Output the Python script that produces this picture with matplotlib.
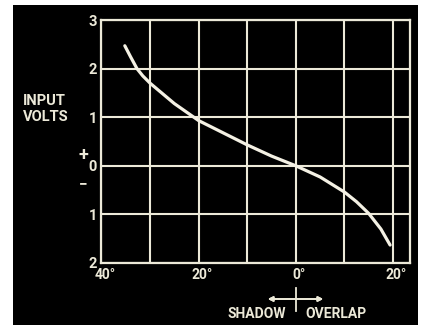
import numpy as np
import matplotlib
matplotlib.use("Agg")
import matplotlib.pyplot as plt
from matplotlib.patches import Rectangle
from matplotlib.lines import Line2D

# curve: phase angle in degrees (shadow < 0 < overlap), input volts
angle = [-35.2, -34, -32.7, -31.5, -30, -25, -20, -15, -10, -5, 0, 5, 10, 12.5, 15, 17.5, 19.4]
volts = [2.47, 2.24, 2.0, 1.85, 1.7, 1.28, 0.93, 0.68, 0.43, 0.2, 0.0, -0.23, -0.54, -0.74,
         -0.98, -1.3, -1.63]

xticks = [-40, -20, 0, 20]
xlabels = ["40°", "20°", "0°", "20°"]
yticks = [-2, -1, 0, 1, 2, 3]
ylabels = ["2", "1", "0", "1", "2", "3"]

W, H = 427, 325
ink = "#ece9d8"
font = ["Roboto", "DejaVu Sans"]

fig = plt.figure(figsize=(W / 100, H / 100), dpi=100, facecolor="white")

def fx(px):
    return px / W

def fy(py):
    return 1 - py / H

# black photo background
fig.add_artist(Rectangle((fx(13), 0), fx(418) - fx(13), fy(5), transform=fig.transFigure,
                         facecolor="black", edgecolor="none", zorder=-10))

ax = fig.add_axes([fx(101), fy(263), fx(410) - fx(101), fy(20) - fy(263)])
ax.set_facecolor("black")
ax.plot(angle, volts, color="#f4f1e4", lw=2.3, solid_capstyle="round",
        solid_joinstyle="round", zorder=3)

ax.set_xlim(-40.1, 23.5)
ax.set_ylim(-2, 3)
ax.set_xticks(np.arange(-40, 21, 10))
ax.set_yticks(yticks)
ax.grid(True, color=ink, lw=1.5)
for s in ax.spines.values():
    s.set_color(ink)
    s.set_linewidth(1.6)
ax.tick_params(length=0, colors=ink)
ax.set_xticklabels([])
ax.set_yticklabels(ylabels, fontsize=10.5, fontweight="bold", family=font, color=ink)
ax.tick_params(axis="y", pad=3)

for x, lab in zip(xticks, xlabels):
    ax.text(x + 0.7, -2.25, lab, ha="center", va="center", fontsize=10, fontweight="bold",
            family=font, color=ink, clip_on=False)

# side labels
fig.text(fx(23), fy(101), "INPUT", ha="left", va="center", fontsize=10.5, fontweight="bold",
         family=font, color=ink)
fig.text(fx(23), fy(117), "VOLTS", ha="left", va="center", fontsize=10.5, fontweight="bold",
         family=font, color=ink)
fig.text(fx(83), fy(155), "+", ha="center", va="center", fontsize=13, fontweight="bold",
         family=font, color=ink)
fig.text(fx(83), fy(184), "−", ha="center", va="center", fontsize=11, fontweight="bold",
         family=font, color=ink)

# shadow / overlap legend
fig.text(fx(257), fy(314), "SHADOW", ha="center", va="center", fontsize=10, fontweight="bold",
         family=font, color=ink)
fig.text(fx(336), fy(314), "OVERLAP", ha="center", va="center", fontsize=10, fontweight="bold",
         family=font, color=ink)
fig.add_artist(Line2D([fx(296), fx(296)], [fy(288), fy(311)], transform=fig.transFigure,
                      color=ink, lw=1.3))
fig.add_artist(plt.annotate("", xy=(fx(326), fy(299)), xytext=(fx(265), fy(299)),
                            xycoords="figure fraction", textcoords="figure fraction",
                            arrowprops=dict(arrowstyle="<|-|>", color=ink, lw=1.3,
                                            mutation_scale=7)))

fig.savefig("out.png", dpi=100, facecolor="white")
